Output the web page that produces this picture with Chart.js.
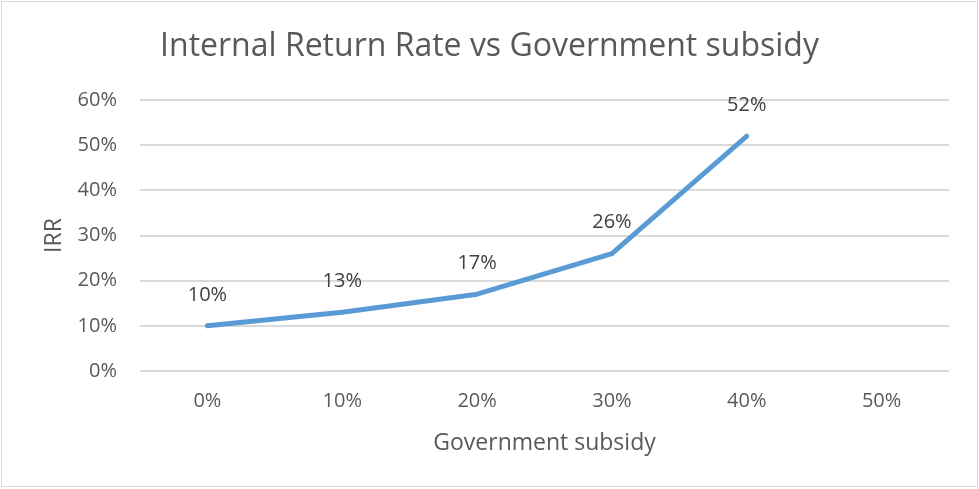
<!DOCTYPE html>
<html>
<head>
<meta charset="utf-8">
<script src="https://cdn.jsdelivr.net/npm/chart.js@4/dist/chart.umd.min.js"></script>
<style>
  html, body { margin: 0; padding: 0; background: #fff; }
  #wrap { width: 979px; height: 489px; position: relative; }
</style>
</head>
<body>
<div id="wrap"><canvas id="c" width="979" height="489"></canvas></div>
<script>
// Government subsidy levels (category axis)
const subsidyLevels = ['0%', '10%', '20%', '30%', '40%', '50%'];
// Internal return rate, in percent, for each subsidy level (none at 50%)
const irrValues = [10, 13, 17, 26, 52, null];
// Value axis tick marks, in percent
const irrTicks = [0, 10, 20, 30, 40, 50, 60];

const chartTitle = 'Internal Return Rate vs Government subsidy';
const FONT = "'Open Sans', 'Liberation Sans', sans-serif";

// Writes each point's value above it
const valueLabels = {
  id: 'valueLabels',
  afterDatasetsDraw(chart) {
    const ctx = chart.ctx;
    const meta = chart.getDatasetMeta(0);
    ctx.save();
    ctx.font = '20px ' + FONT;
    ctx.fillStyle = '#404040';
    ctx.textAlign = 'center';
    ctx.textBaseline = 'middle';
    meta.data.forEach((pt, i) => {
      const v = chart.data.datasets[0].data[i];
      if (v == null) return;
      ctx.fillText(v + '%', pt.x, pt.y - 31);
    });
    ctx.restore();
  }
};

// White background, thin outline and the title centred on the whole canvas
const frame = {
  id: 'frame',
  beforeDraw(chart) {
    const ctx = chart.ctx;
    ctx.save();
    ctx.fillStyle = '#fff';
    ctx.fillRect(0, 0, chart.width, chart.height);
    ctx.strokeStyle = '#D9D9D9';
    ctx.lineWidth = 1;
    ctx.strokeRect(1.5, 1.5, chart.width - 3, chart.height - 4);
    ctx.font = '32px ' + FONT;
    ctx.fillStyle = '#595959';
    ctx.textAlign = 'center';
    ctx.textBaseline = 'middle';
    ctx.fillText(chartTitle, chart.width / 2, 47);
    ctx.restore();
  }
};

new Chart(document.getElementById('c'), {
  type: 'line',
  data: {
    labels: subsidyLevels,
    datasets: [{
      data: irrValues,
      borderColor: '#5B9BD5',
      borderWidth: 5,
      borderCapStyle: 'round',
      borderJoinStyle: 'round',
      pointRadius: 0,
      pointHoverRadius: 0,
      tension: 0,
      fill: false
    }]
  },
  options: {
    responsive: false,
    animation: false,
    devicePixelRatio: 1,
    layout: { padding: { left: 0, right: 30, top: 100, bottom: 32 } },
    plugins: {
      legend: { display: false },
      tooltip: { enabled: false },
      title: { display: false }
    },
    scales: {
      x: {
        offset: true,
        grid: { display: false, drawTicks: false },
        border: { display: false },
        ticks: {
          color: '#595959',
          font: { family: FONT, size: 20 },
          padding: 18,
          maxRotation: 0
        },
        title: {
          display: true,
          text: 'Government subsidy',
          color: '#595959',
          font: { family: FONT, size: 23 },
          padding: { top: 0, bottom: 0 }
        },
        afterFit(scale) { scale.height = 86; }
      },
      y: {
        min: 0,
        max: 60,
        afterBuildTicks(scale) {
          scale.ticks = irrTicks.map(v => ({ value: v }));
        },
        grid: { color: '#D9D9D9', lineWidth: 2, drawTicks: false },
        border: { display: false },
        ticks: {
          color: '#595959',
          font: { family: FONT, size: 20 },
          padding: 23,
          callback: v => v + '%'
        },
        title: {
          display: true,
          text: 'IRR',
          color: '#595959',
          font: { family: FONT, size: 23 },
          padding: { top: 41, bottom: 0 }
        },
        afterFit(scale) { scale.width = 140; }
      }
    }
  },
  plugins: [frame, valueLabels]
});
</script>
</body>
</html>
